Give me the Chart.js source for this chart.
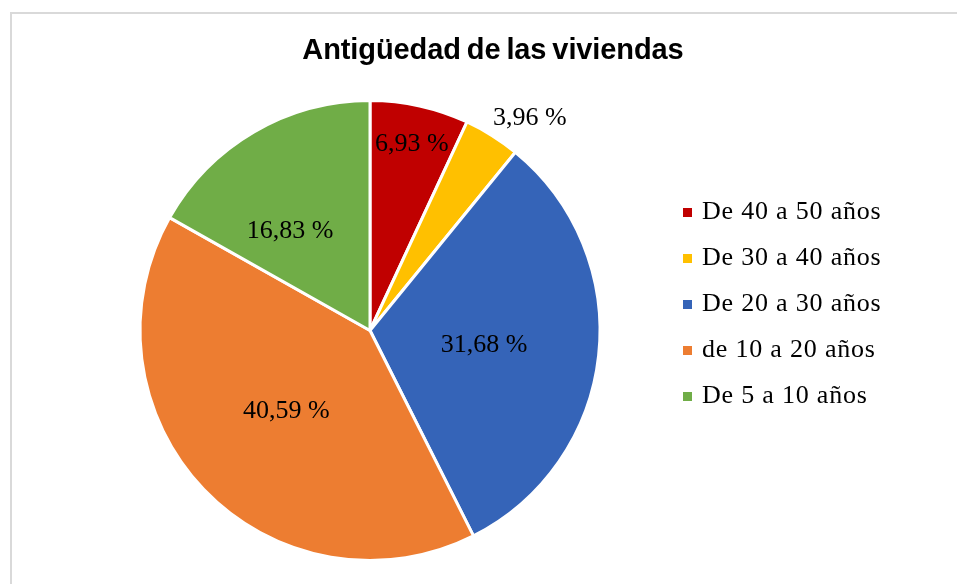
<!DOCTYPE html>
<html>
<head>
<meta charset="utf-8">
<script src="https://cdn.jsdelivr.net/npm/chart.js@4"></script>
<style>
  html, body { margin: 0; padding: 0; background: #fff; overflow: hidden; }
  #wrap { position: relative; width: 957px; height: 584px; overflow: hidden; background: #fff; }
  #frame { position: absolute; left: 10px; top: 12px; width: 1000px; height: 700px; border: 2px solid #d9d9d9; box-sizing: border-box; }
  #c { position: absolute; left: 0; top: 0; }
  #title { position: absolute; left: 293px; top: 32px; width: 400px; text-align: center;
           font-family: "Liberation Sans", Arial, sans-serif; font-weight: bold; font-size: 29px;
           line-height: 34px; color: #000; letter-spacing: -0.1px; word-spacing: -2px; white-space: nowrap; }
  #legend { position: absolute; left: 683px; top: 188px; }
  .row { position: relative; height: 46px; font-family: "Liberation Serif", "Times New Roman", serif;
         font-size: 26px; line-height: 46px; color: #000; white-space: nowrap; letter-spacing: 0.8px; }
  .mk { position: absolute; left: 0; top: 20px; width: 9px; height: 9px; }
  .tx { position: absolute; left: 19px; top: 0; }
</style>
</head>
<body>
<div id="wrap">
  <div id="frame"></div>
  <canvas id="c" width="957" height="584"></canvas>
  <div id="title">Antigüedad de las viviendas</div>
  <div id="legend"></div>
</div>
<script>
// ---- data ----
const categories = ["De 40 a 50 años", "De 30 a 40 años", "De 20 a 30 años", "de 10 a 20 años", "De 5 a 10 años"];
const values = [6.93, 3.96, 31.68, 40.59, 16.83];
const chartTitle = "Antigüedad de las viviendas";

function fmt(v) { return v.toFixed(2).replace('.', ',') + ' %'; }

const sliceLabels = {
  id: 'sliceLabels',
  afterDatasetsDraw(chart, args, opts) {
    const ctx = chart.ctx;
    const meta = chart.getDatasetMeta(0);
    const ds = chart.data.datasets[0];
    ctx.save();
    ctx.font = opts.font;
    ctx.fillStyle = opts.color;
    ctx.textAlign = 'center';
    ctx.textBaseline = 'alphabetic';
    meta.data.forEach((arc, i) => {
      const p = arc.getProps(['x', 'y', 'startAngle', 'endAngle', 'outerRadius'], true);
      const mid = (p.startAngle + p.endAngle) / 2 + opts.angleOffsets[i] * Math.PI / 180;
      const r = p.outerRadius * opts.radialFractions[i];
      const x = p.x + Math.cos(mid) * r;
      const y = p.y + Math.sin(mid) * r;
      ctx.fillText(fmt(ds.data[i]), x, y + opts.baselineShift);
    });
    ctx.restore();
  }
};

document.getElementById('title').textContent = chartTitle;

const chart = new Chart(document.getElementById('c'), {
  type: 'pie',
  data: {
    labels: categories,
    datasets: [{
      data: values,
      backgroundColor: ['#C00000', '#FFC000', '#3564B8', '#ED7D31', '#70AD47'],
      borderColor: '#ffffff',
      borderWidth: 3,
      radius: 230
    }]
  },
  options: {
    responsive: false,
    animation: false,
    devicePixelRatio: 1,
    layout: { padding: { left: 142, right: 359, top: 102, bottom: 25 } },
    plugins: {
      legend: { display: false },
      title: { display: false },
      tooltip: { enabled: false },
      sliceLabels: {
        font: '26px "Liberation Serif", "Times New Roman", serif',
        color: '#000',
        radialFractions: [0.837, 1.161, 0.499, 0.5, 0.56],
        angleOffsets: [0.1, 4.7, 0.1, 0.3, -8.1],
        baselineShift: 8.8
      }
    }
  },
  plugins: [sliceLabels]
});

// HTML legend built from the pie chart's own legend items
const items = Chart.overrides.pie.plugins.legend.labels.generateLabels(chart);
const lg = document.getElementById('legend');
items.forEach(it => {
  const row = document.createElement('div');
  row.className = 'row';
  const mk = document.createElement('span');
  mk.className = 'mk';
  mk.style.background = it.fillStyle;
  const tx = document.createElement('span');
  tx.className = 'tx';
  tx.textContent = it.text;
  row.appendChild(mk);
  row.appendChild(tx);
  lg.appendChild(row);
});
</script>
</body>
</html>
